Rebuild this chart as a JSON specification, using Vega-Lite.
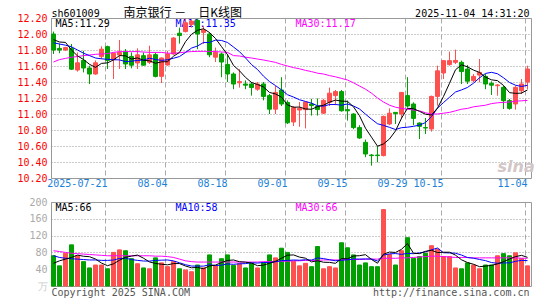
{
"$schema": "https://vega.github.io/schema/vega-lite/v6.json",
"background": "white",
"padding": {"left": 16, "top": 6, "right": 5, "bottom": 0},
"spacing": 24,
"bounds": "flush",
"config": {
  "view": {"stroke": "#999999", "strokeWidth": 1},
  "font": "DejaVu Sans Mono",
  "axis": {"labelFont": "DejaVu Sans Mono", "labelFontSize": 10, "ticks": false, "domain": false, "title": null, "labelOverlap": false},
  "text": {"font": "DejaVu Sans Mono", "fontSize": 10}
},
"datasets": {"k": [
{"d":"2025-07-08","o":12.00,"h":12.03,"l":11.75,"c":11.80,"m5":11.93,"m10":11.89,"m30":11.65,"v":72,"v5":54,"v10":72,"v30":84},
{"d":"2025-07-09","o":11.82,"h":11.88,"l":11.76,"c":11.80,"m5":11.90,"m10":11.875,"m30":11.68,"v":48,"v5":60,"v10":68,"v30":82},
{"d":"2025-07-10","o":11.80,"h":11.84,"l":11.79,"c":11.83,"m5":11.895,"m10":11.86,"m30":11.695,"v":78,"v5":64,"v10":66,"v30":80},
{"d":"2025-07-11","o":11.82,"h":11.875,"l":11.55,"c":11.56,"m5":11.80,"m10":11.84,"m30":11.71,"v":98,"v5":68,"v10":65,"v30":78},
{"d":"2025-07-14","o":11.55,"h":11.77,"l":11.53,"c":11.64,"m5":11.726,"m10":11.80,"m30":11.718,"v":72,"v5":73.6,"v10":64,"v30":77},
{"d":"2025-07-15","o":11.67,"h":11.79,"l":11.52,"c":11.575,"m5":11.681,"m10":11.76,"m30":11.73,"v":58,"v5":70.8,"v10":63,"v30":76},
{"d":"2025-07-16","o":11.575,"h":11.604,"l":11.375,"c":11.50,"m5":11.621,"m10":11.73,"m30":11.737,"v":43,"v5":69.8,"v10":62,"v30":75},
{"d":"2025-07-17","o":11.50,"h":11.67,"l":11.49,"c":11.64,"m5":11.583,"m10":11.70,"m30":11.746,"v":50,"v5":64.2,"v10":62,"v30":74},
{"d":"2025-07-18","o":11.717,"h":11.846,"l":11.6875,"c":11.81,"m5":11.633,"m10":11.69,"m30":11.75,"v":50,"v5":54.6,"v10":61,"v30":73},
{"d":"2025-07-21","o":11.842,"h":11.854,"l":11.5625,"c":11.67,"m5":11.639,"m10":11.683,"m30":11.755,"v":41,"v5":48.4,"v10":61,"v30":72},
{"d":"2025-07-22","o":11.679,"h":11.77,"l":11.4375,"c":11.76,"m5":11.676,"m10":11.679,"m30":11.77,"v":80,"v5":52.8,"v10":61.8,"v30":72},
{"d":"2025-07-23","o":11.7375,"h":11.925,"l":11.5625,"c":11.77,"m5":11.73,"m10":11.676,"m30":11.78,"v":86,"v5":61.4,"v10":65.6,"v30":72},
{"d":"2025-07-24","o":11.779,"h":11.8125,"l":11.5625,"c":11.625,"m5":11.727,"m10":11.655,"m30":11.78,"v":84,"v5":68.2,"v10":66.2,"v30":72},
{"d":"2025-07-25","o":11.72,"h":11.77,"l":11.571,"c":11.61,"m5":11.687,"m10":11.66,"m30":11.78,"v":65,"v5":71.2,"v10":62.9,"v30":72},
{"d":"2025-07-28","o":11.6375,"h":11.821,"l":11.5625,"c":11.74,"m5":11.701,"m10":11.67,"m30":11.78,"v":53,"v5":73.6,"v10":61,"v30":72},
{"d":"2025-07-29","o":11.729,"h":11.77,"l":11.604,"c":11.61,"m5":11.671,"m10":11.674,"m30":11.775,"v":43,"v5":66.2,"v10":59.5,"v30":72},
{"d":"2025-07-30","o":11.646,"h":11.854,"l":11.625,"c":11.74,"m5":11.665,"m10":11.698,"m30":11.77,"v":41,"v5":57.2,"v10":59.3,"v30":72},
{"d":"2025-07-31","o":11.742,"h":11.771,"l":11.458,"c":11.47,"m5":11.634,"m10":11.681,"m30":11.77,"v":67,"v5":53.8,"v10":61,"v30":71},
{"d":"2025-08-01","o":11.471,"h":11.708,"l":11.3875,"c":11.70,"m5":11.652,"m10":11.67,"m30":11.77,"v":55,"v5":51.8,"v10":61.5,"v30":71},
{"d":"2025-08-04","o":11.6125,"h":11.79,"l":11.604,"c":11.75,"m5":11.654,"m10":11.678,"m30":11.76,"v":46,"v5":50.4,"v10":62,"v30":70},
{"d":"2025-08-05","o":11.75,"h":11.96,"l":11.74,"c":11.95,"m5":11.722,"m10":11.697,"m30":11.76,"v":58,"v5":53.4,"v10":59.8,"v30":68},
{"d":"2025-08-06","o":12.01,"h":12.08,"l":11.88,"c":11.98,"m5":11.77,"m10":11.718,"m30":11.765,"v":41,"v5":53.4,"v10":55.3,"v30":64},
{"d":"2025-08-07","o":12.03,"h":12.19,"l":12.02,"c":12.14,"m5":11.904,"m10":11.769,"m30":11.775,"v":38,"v5":47.6,"v10":50.7,"v30":60},
{"d":"2025-08-08","o":12.12,"h":12.18,"l":12.08,"c":12.16,"m5":11.996,"m10":11.824,"m30":11.78,"v":34,"v5":43.4,"v10":47.6,"v30":58},
{"d":"2025-08-11","o":12.17,"h":12.19,"l":11.81,"c":12.00,"m5":12.046,"m10":11.85,"m30":11.783,"v":50,"v5":44.2,"v10":47.3,"v30":57},
{"d":"2025-08-12","o":12.02,"h":12.10,"l":11.875,"c":12.05,"m5":12.066,"m10":11.894,"m30":11.783,"v":43,"v5":41.2,"v10":47.3,"v30":57},
{"d":"2025-08-13","o":12.00,"h":12.02,"l":11.71,"c":11.74,"m5":12.018,"m10":11.894,"m30":11.783,"v":74,"v5":47.8,"v10":50.6,"v30":57},
{"d":"2025-08-14","o":11.71,"h":11.83,"l":11.65,"c":11.77,"m5":11.944,"m10":11.924,"m30":11.78,"v":48,"v5":49.8,"v10":48.7,"v30":57},
{"d":"2025-08-15","o":11.75,"h":11.77,"l":11.46,"c":11.65,"m5":11.842,"m10":11.919,"m30":11.775,"v":65,"v5":56,"v10":49.7,"v30":57},
{"d":"2025-08-18","o":11.62,"h":11.75,"l":11.40,"c":11.50,"m5":11.742,"m10":11.894,"m30":11.77,"v":74,"v5":60.8,"v10":52.5,"v30":57},
{"d":"2025-08-19","o":11.50,"h":11.52,"l":11.31,"c":11.375,"m5":11.607,"m10":11.837,"m30":11.73,"v":49,"v5":62,"v10":51.6,"v30":57},
{"d":"2025-08-20","o":11.39,"h":11.56,"l":11.33,"c":11.405,"m5":11.54,"m10":11.779,"m30":11.725,"v":53,"v5":57.8,"v10":52.8,"v30":57},
{"d":"2025-08-21","o":11.375,"h":11.42,"l":11.31,"c":11.36,"m5":11.458,"m10":11.701,"m30":11.71,"v":43,"v5":56.8,"v10":53.3,"v30":57},
{"d":"2025-08-22","o":11.375,"h":11.40,"l":11.23,"c":11.33,"m5":11.394,"m10":11.618,"m30":11.70,"v":54,"v5":54.6,"v10":55.3,"v30":57},
{"d":"2025-08-25","o":11.31,"h":11.40,"l":11.29,"c":11.375,"m5":11.369,"m10":11.556,"m30":11.687,"v":43,"v5":48.4,"v10":54.6,"v30":57},
{"d":"2025-08-26","o":11.375,"h":11.40,"l":11.17,"c":11.22,"m5":11.338,"m10":11.473,"m30":11.675,"v":56,"v5":49.8,"v10":55.9,"v30":58},
{"d":"2025-08-27","o":11.23,"h":11.25,"l":11.00,"c":11.06,"m5":11.269,"m10":11.405,"m30":11.66,"v":74,"v5":54,"v10":55.9,"v30":58},
{"d":"2025-08-28","o":11.06,"h":11.35,"l":11.00,"c":11.27,"m5":11.251,"m10":11.355,"m30":11.645,"v":67,"v5":58.8,"v10":57.8,"v30":58},
{"d":"2025-08-29","o":11.30,"h":11.46,"l":11.10,"c":11.125,"m5":11.21,"m10":11.302,"m30":11.62,"v":90,"v5":66,"v10":60.3,"v30":59},
{"d":"2025-09-01","o":11.145,"h":11.17,"l":10.875,"c":10.89,"m5":11.113,"m10":11.241,"m30":11.60,"v":80,"v5":73.4,"v10":60.9,"v30":59},
{"d":"2025-09-02","o":10.90,"h":11.10,"l":10.85,"c":11.08,"m5":11.085,"m10":11.212,"m30":11.58,"v":59,"v5":74,"v10":61.9,"v30":60},
{"d":"2025-09-03","o":11.05,"h":11.15,"l":10.84,"c":11.07,"m5":11.087,"m10":11.178,"m30":11.565,"v":48,"v5":68.8,"v10":61.4,"v30":60},
{"d":"2025-09-04","o":11.054,"h":11.155,"l":10.82,"c":11.15,"m5":11.063,"m10":11.157,"m30":11.545,"v":54,"v5":66.2,"v10":62.5,"v30":61},
{"d":"2025-09-05","o":11.125,"h":11.19,"l":10.98,"c":11.105,"m5":11.059,"m10":11.135,"m30":11.53,"v":46,"v5":57.4,"v10":61.7,"v30":61},
{"d":"2025-09-08","o":11.096,"h":11.195,"l":10.98,"c":11.055,"m5":11.092,"m10":11.103,"m30":11.51,"v":94,"v5":60.2,"v10":66.8,"v30":61},
{"d":"2025-09-09","o":11.01,"h":11.19,"l":11.00,"c":11.17,"m5":11.11,"m10":11.098,"m30":11.50,"v":41,"v5":56.6,"v10":65.3,"v30":62},
{"d":"2025-09-10","o":11.146,"h":11.33,"l":11.10,"c":11.26,"m5":11.148,"m10":11.118,"m30":11.48,"v":46,"v5":56.2,"v10":62.5,"v30":62},
{"d":"2025-09-11","o":11.23,"h":11.30,"l":11.11,"c":11.28,"m5":11.174,"m10":11.119,"m30":11.465,"v":43,"v5":54,"v10":60.1,"v30":62},
{"d":"2025-09-12","o":11.28,"h":11.30,"l":11.03,"c":11.04,"m5":11.161,"m10":11.11,"m30":11.445,"v":103,"v5":65.4,"v10":61.4,"v30":62},
{"d":"2025-09-15","o":11.054,"h":11.167,"l":10.917,"c":11.04,"m5":11.158,"m10":11.125,"m30":11.425,"v":91,"v5":64.8,"v10":62.5,"v30":63},
{"d":"2025-09-16","o":11.00,"h":11.01,"l":10.81,"c":10.83,"m5":11.09,"m10":11.10,"m30":11.39,"v":74,"v5":71.4,"v10":64,"v30":63},
{"d":"2025-09-17","o":10.83,"h":10.86,"l":10.69,"c":10.70,"m5":10.978,"m10":11.063,"m30":11.35,"v":50,"v5":72.2,"v10":64.2,"v30":63},
{"d":"2025-09-18","o":10.646,"h":10.68,"l":10.46,"c":10.50,"m5":10.822,"m10":10.998,"m30":11.31,"v":55,"v5":74.6,"v10":64.3,"v30":64},
{"d":"2025-09-19","o":10.487,"h":10.50,"l":10.354,"c":10.48,"m5":10.71,"m10":10.936,"m30":11.26,"v":46,"v5":63.2,"v10":64.3,"v30":64},
{"d":"2025-09-22","o":10.487,"h":10.60,"l":10.396,"c":10.48,"m5":10.598,"m10":10.878,"m30":11.20,"v":46,"v5":54.2,"v10":59.5,"v30":64},
{"d":"2025-09-23","o":10.48,"h":10.98,"l":10.47,"c":10.97,"m5":10.626,"m10":10.858,"m30":11.15,"v":182,"v5":75.8,"v10":73.6,"v30":66},
{"d":"2025-09-24","o":10.875,"h":11.07,"l":10.86,"c":11.01,"m5":10.688,"m10":10.833,"m30":11.11,"v":75,"v5":80.8,"v10":76.5,"v30":66},
{"d":"2025-09-25","o":11.02,"h":11.02,"l":10.875,"c":11.005,"m5":10.789,"m10":10.806,"m30":11.085,"v":50,"v5":79.8,"v10":77.2,"v30":66},
{"d":"2025-09-26","o":11.00,"h":11.27,"l":10.94,"c":11.27,"m5":10.947,"m10":10.829,"m30":11.07,"v":84,"v5":87.4,"v10":75.3,"v30":67},
{"d":"2025-09-29","o":11.23,"h":11.46,"l":11.08,"c":11.10,"m5":11.071,"m10":10.835,"m30":11.06,"v":115,"v5":101.2,"v10":77.7,"v30":67},
{"d":"2025-09-30","o":11.125,"h":11.146,"l":10.86,"c":10.945,"m5":11.066,"m10":10.846,"m30":11.05,"v":66,"v5":78,"v10":76.9,"v30":68},
{"d":"2025-10-09","o":10.887,"h":10.896,"l":10.6875,"c":10.846,"m5":11.033,"m10":10.861,"m30":11.04,"v":70,"v5":77,"v10":78.9,"v30":69},
{"d":"2025-10-10","o":10.83,"h":10.95,"l":10.75,"c":10.825,"m5":10.997,"m10":10.893,"m30":11.015,"v":78,"v5":82.6,"v10":81.2,"v30":70},
{"d":"2025-10-13","o":10.813,"h":11.23,"l":10.78,"c":11.22,"m5":10.987,"m10":10.967,"m30":11.00,"v":96,"v5":85,"v10":86.2,"v30":71},
{"d":"2025-10-14","o":11.22,"h":11.604,"l":11.104,"c":11.54,"m5":11.075,"m10":11.073,"m30":11.00,"v":88,"v5":79.6,"v10":90.4,"v30":71},
{"d":"2025-10-15","o":11.5125,"h":11.67,"l":11.4375,"c":11.667,"m5":11.22,"m10":11.143,"m30":11.01,"v":70,"v5":80.4,"v10":79.2,"v30":70},
{"d":"2025-10-16","o":11.617,"h":11.78,"l":11.604,"c":11.667,"m5":11.384,"m10":11.209,"m30":11.02,"v":70,"v5":80.4,"v10":78.7,"v30":69},
{"d":"2025-10-17","o":11.646,"h":11.804,"l":11.625,"c":11.67,"m5":11.553,"m10":11.275,"m30":11.04,"v":43,"v5":73.4,"v10":78,"v30":68},
{"d":"2025-10-20","o":11.646,"h":11.667,"l":11.375,"c":11.53,"m5":11.615,"m10":11.301,"m30":11.06,"v":41,"v5":62.4,"v10":73.7,"v30":68},
{"d":"2025-10-21","o":11.5625,"h":11.6125,"l":11.375,"c":11.41,"m5":11.589,"m10":11.332,"m30":11.07,"v":55,"v5":55.8,"v10":67.7,"v30":68},
{"d":"2025-10-22","o":11.417,"h":11.50,"l":11.396,"c":11.47,"m5":11.549,"m10":11.385,"m30":11.09,"v":50,"v5":51.8,"v10":66.1,"v30":67},
{"d":"2025-10-23","o":11.487,"h":11.6875,"l":11.396,"c":11.52,"m5":11.52,"m10":11.452,"m30":11.10,"v":41,"v5":46,"v10":63.2,"v30":67},
{"d":"2025-10-24","o":11.47,"h":11.50,"l":11.31,"c":11.375,"m5":11.461,"m10":11.507,"m30":11.11,"v":50,"v5":47.4,"v10":60.4,"v30":67},
{"d":"2025-10-27","o":11.383,"h":11.408,"l":11.2375,"c":11.36,"m5":11.427,"m10":11.521,"m30":11.13,"v":50,"v5":49.2,"v10":55.8,"v30":67},
{"d":"2025-10-28","o":11.354,"h":11.375,"l":11.229,"c":11.3625,"m5":11.417,"m10":11.503,"m30":11.14,"v":72,"v5":52.6,"v10":54.2,"v30":67},
{"d":"2025-10-29","o":11.333,"h":11.354,"l":11.0625,"c":11.167,"m5":11.357,"m10":11.453,"m30":11.145,"v":77,"v5":58,"v10":54.9,"v30":67},
{"d":"2025-10-30","o":11.167,"h":11.1875,"l":11.054,"c":11.07,"m5":11.267,"m10":11.394,"m30":11.15,"v":72,"v5":64.2,"v10":55.1,"v30":67},
{"d":"2025-10-31","o":11.125,"h":11.354,"l":11.054,"c":11.333,"m5":11.258,"m10":11.36,"m30":11.16,"v":79,"v5":70,"v10":58.7,"v30":67},
{"d":"2025-11-03","o":11.29,"h":11.4375,"l":11.25,"c":11.375,"m5":11.261,"m10":11.344,"m30":11.165,"v":65,"v5":73,"v10":61.1,"v30":66},
{"d":"2025-11-04","o":11.40,"h":11.604,"l":11.3125,"c":11.5625,"m5":11.301,"m10":11.359,"m30":11.17,"v":48,"v5":68.2,"v10":60.4,"v30":66}
]},
"vconcat": [
{
  "width": 480, "height": 160,
  "layer": [
    {"data": {"values": [{"t": "MA5:11.29"}]}, "mark": {"type": "text", "align": "left", "baseline": "alphabetic", "color": "#000000"},
     "encoding": {"x": {"datum": "2025-07-08", "type": "ordinal", "bandPosition": 1}, "y": {"datum": 12.084, "type": "quantitative"}, "text": {"field": "t"}}},
    {"data": {"values": [{"t": "MA10:11.35"}]}, "mark": {"type": "text", "align": "left", "baseline": "alphabetic", "color": "#0000ff"},
     "encoding": {"x": {"datum": "2025-08-05", "type": "ordinal", "bandPosition": 1}, "y": {"datum": 12.084, "type": "quantitative"}, "text": {"field": "t"}}},
    {"data": {"values": [{"t": "MA30:11.17"}]}, "mark": {"type": "text", "align": "left", "baseline": "alphabetic", "color": "#ff00ff"},
     "encoding": {"x": {"datum": "2025-09-02", "type": "ordinal", "bandPosition": 1}, "y": {"datum": 12.084, "type": "quantitative"}, "text": {"field": "t"}}},
    {"data": {"values": [{"t": "sh601009"}]}, "mark": {"type": "text", "align": "left", "baseline": "alphabetic", "color": "#000000"},
     "encoding": {"x": {"datum": "2025-07-08", "type": "ordinal", "bandPosition": 0}, "y": {"datum": 12.217, "type": "quantitative"}, "text": {"field": "t"}}},
    {"data": {"values": [{"t": "南京银行 －　日K线图"}]}, "mark": {"type": "text", "align": "left", "baseline": "alphabetic", "color": "#000000", "font": "Noto Sans CJK SC", "fontSize": 12},
     "encoding": {"x": {"datum": "2025-07-24", "type": "ordinal", "bandPosition": 0}, "y": {"datum": 12.217, "type": "quantitative"}, "text": {"field": "t"}}},
    {"data": {"values": [{"t": "2025-11-04 14:31:20"}]}, "mark": {"type": "text", "align": "right", "baseline": "alphabetic", "color": "#000000"},
     "encoding": {"x": {"datum": "2025-11-04", "type": "ordinal", "bandPosition": 1}, "y": {"datum": 12.217, "type": "quantitative"}, "text": {"field": "t"}}},
    {"data": {"values": [{"t": "sina"}]}, "mark": {"type": "text", "align": "left", "baseline": "alphabetic", "color": "#d2c6c6", "font": "DejaVu Sans", "fontSize": 16, "fontStyle": "italic", "fontWeight": "bold"},
     "encoding": {"x": {"datum": "2025-10-28", "type": "ordinal", "bandPosition": 0.5}, "y": {"datum": 10.275, "type": "quantitative"}, "text": {"field": "t"}}},
    {"data": {"name": "k"}, "mark": {"type": "rule", "strokeWidth": 1},
     "encoding": {
       "x": {"field": "d", "type": "ordinal",
             "scale": {"type": "band", "paddingInner": 0.3333333, "paddingOuter": 0.16666665, "align": 0.25},
             "axis": {"values": ["2025-07-21","2025-08-04","2025-08-18","2025-09-01","2025-09-15","2025-09-29","2025-10-15","2025-11-04"],
                      "labelExpr": "datum.value == '2025-07-21' ? datum.value : slice(datum.value, 5)",
                      "bandPosition": 0, "grid": true, "gridDash": [5, 3], "gridColor": "#aaaaaa",
                      "labelColor": "#1a7fd8", "labelPadding": 5, "labelFlush": 8, "labelAngle": 0}},
       "y": {"field": "l", "type": "quantitative",
             "scale": {"domain": [10.2, 12.2], "zero": false, "nice": false},
             "axis": {"values": [10.2, 10.4, 10.6, 10.8, 11.0, 11.2, 11.4, 11.6, 11.8, 12.0, 12.2], "tickCount": 20, "format": ".2f",
                      "labelColor": "#ff0000", "labelPadding": 4, "grid": true, "gridDash": [1, 2], "gridColor": "#999999"}},
       "y2": {"field": "h"},
       "color": {"condition": {"test": "datum.c >= datum.o", "value": "#ff5050"}, "value": "#00a000"}
     }},
    {"data": {"name": "k"}, "mark": {"type": "bar", "strokeWidth": 1},
     "encoding": {
       "x": {"field": "d", "type": "ordinal"},
       "y": {"field": "o", "type": "quantitative"},
       "y2": {"field": "c"},
       "color": {"condition": {"test": "datum.c >= datum.o", "value": "#ff5050"}, "value": "#00a000"},
       "stroke": {"condition": {"test": "datum.c >= datum.o", "value": "#ff5050"}, "value": "#00a000"}
     }},
    {"data": {"name": "k"}, "mark": {"type": "line", "strokeWidth": 1, "color": "#ff00ff"},
     "encoding": {"x": {"field": "d", "type": "ordinal"}, "y": {"field": "m30", "type": "quantitative"}}},
    {"data": {"name": "k"}, "mark": {"type": "line", "strokeWidth": 1, "color": "#0000ff"},
     "encoding": {"x": {"field": "d", "type": "ordinal"}, "y": {"field": "m10", "type": "quantitative"}}},
    {"data": {"name": "k"}, "mark": {"type": "line", "strokeWidth": 1, "color": "#000000"},
     "encoding": {"x": {"field": "d", "type": "ordinal"}, "y": {"field": "m5", "type": "quantitative"}}}
  ]
},
{
  "width": 480, "height": 84,
  "layer": [
    {"data": {"values": [{"t": "MA5:66"}]}, "mark": {"type": "text", "align": "left", "baseline": "alphabetic", "color": "#000000"},
     "encoding": {"x": {"datum": "2025-07-08", "type": "ordinal", "bandPosition": 1}, "y": {"datum": 178.6, "type": "quantitative"}, "text": {"field": "t"}}},
    {"data": {"values": [{"t": "MA10:58"}]}, "mark": {"type": "text", "align": "left", "baseline": "alphabetic", "color": "#0000ff"},
     "encoding": {"x": {"datum": "2025-08-05", "type": "ordinal", "bandPosition": 1}, "y": {"datum": 178.6, "type": "quantitative"}, "text": {"field": "t"}}},
    {"data": {"values": [{"t": "MA30:66"}]}, "mark": {"type": "text", "align": "left", "baseline": "alphabetic", "color": "#ff00ff"},
     "encoding": {"x": {"datum": "2025-09-02", "type": "ordinal", "bandPosition": 1}, "y": {"datum": 178.6, "type": "quantitative"}, "text": {"field": "t"}}},
    {"data": {"values": [{"t": "Copyright 2025 SINA.COM"}]}, "mark": {"type": "text", "align": "left", "baseline": "alphabetic", "color": "#555555"},
     "encoding": {"x": {"datum": "2025-07-08", "type": "ordinal", "bandPosition": 0}, "y": {"datum": -23.8, "type": "quantitative"}, "text": {"field": "t"}}},
    {"data": {"values": [{"t": "http://finance.sina.com.cn"}]}, "mark": {"type": "text", "align": "right", "baseline": "alphabetic", "color": "#555555"},
     "encoding": {"x": {"datum": "2025-11-04", "type": "ordinal", "bandPosition": 1}, "y": {"datum": -23.8, "type": "quantitative"}, "text": {"field": "t"}}},
    {"data": {"name": "k"}, "mark": {"type": "bar", "strokeWidth": 1},
     "encoding": {
       "x": {"field": "d", "type": "ordinal",
             "scale": {"type": "band", "paddingInner": 0.3333333, "paddingOuter": 0.16666665, "align": 0.25},
             "axis": {"values": ["2025-07-21","2025-08-04","2025-08-18","2025-09-01","2025-09-15","2025-09-29","2025-10-15","2025-11-04"],
                      "labels": false, "bandPosition": 0, "grid": true, "gridDash": [5, 3], "gridColor": "#aaaaaa"}},
       "y": {"field": "v", "type": "quantitative",
             "scale": {"domain": [0, 200], "nice": false},
             "axis": {"values": [0, 40, 80, 120, 160, 200], "tickCount": 20,
                      "labelExpr": "datum.value == 0 ? '万' : datum.label",
                      "labelColor": {"condition": {"test": "datum.value == 0", "value": "#cccccc"}, "value": "#aaaaaa"},
                      "labelPadding": 4, "grid": true, "gridDash": [1, 2], "gridColor": "#999999"}},
       "color": {"condition": {"test": "datum.c >= datum.o", "value": "#ff5050"}, "value": "#00a000"},
       "stroke": {"condition": {"test": "datum.c >= datum.o", "value": "#ff5050"}, "value": "#00a000"}
     }},
    {"data": {"name": "k"}, "mark": {"type": "line", "strokeWidth": 1, "color": "#ff00ff"},
     "encoding": {"x": {"field": "d", "type": "ordinal"}, "y": {"field": "v30", "type": "quantitative"}}},
    {"data": {"name": "k"}, "mark": {"type": "line", "strokeWidth": 1, "color": "#0000ff"},
     "encoding": {"x": {"field": "d", "type": "ordinal"}, "y": {"field": "v10", "type": "quantitative"}}},
    {"data": {"name": "k"}, "mark": {"type": "line", "strokeWidth": 1, "color": "#000000"},
     "encoding": {"x": {"field": "d", "type": "ordinal"}, "y": {"field": "v5", "type": "quantitative"}}}
  ]
}
]
}
